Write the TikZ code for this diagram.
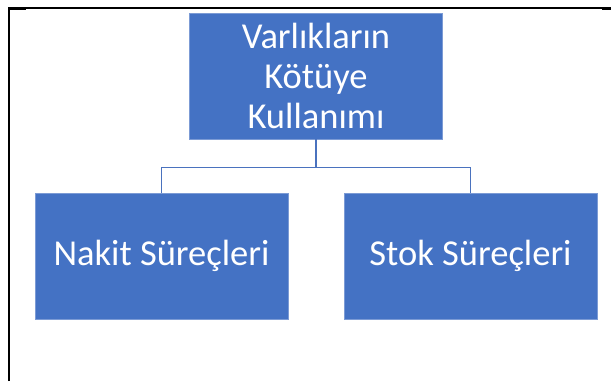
\documentclass[tikz,border=0pt]{standalone}
\usepackage{fontspec}
\setmainfont{Carlito}
\usepackage{tikz}
\usetikzlibrary{positioning}

\begin{document}
\begin{tikzpicture}[x=1pt,y=1pt,
        every node/.style={rectangle, draw=boxline, line width=0.8pt, fill=boxfill, text=white,
            align=center, minimum width=253pt, minimum height=126pt, inner sep=0pt,
            font=\fontsize{36.5}{40}\selectfont},
        link/.style={draw=linkcol, line width=1.3pt}]
            % colors of the chart
            \definecolor{boxfill}{HTML}{4472C4}
            \definecolor{boxline}{HTML}{7C9BD5}
            \definecolor{linkcol}{HTML}{4A72BE}
            \useasboundingbox (0,0) rectangle (611,-381);
            % frame around the chart
            \draw[line width=2pt] (9,-381) -- (9,-8) -- (611,-8);
            \draw[line width=3pt] (8,-8.5) -- (26,-8.5);
            \draw[line width=3pt] (602,-8.5) -- (611,-8.5);
            \node (varlik) at (316,-76) {Varlıkların\\Kötüye\\Kullanımı};
            \node (nakit) at (161.5,-256) {Nakit Süreçleri};
            \node (stok) at (470.5,-256) {Stok Süreçleri};
            \draw[link] (varlik.south) -- ++(0,-28) -| (nakit.north);
            \draw[link] (varlik.south) -- ++(0,-28) -| (stok.north);
        \end{tikzpicture}
\end{document}
